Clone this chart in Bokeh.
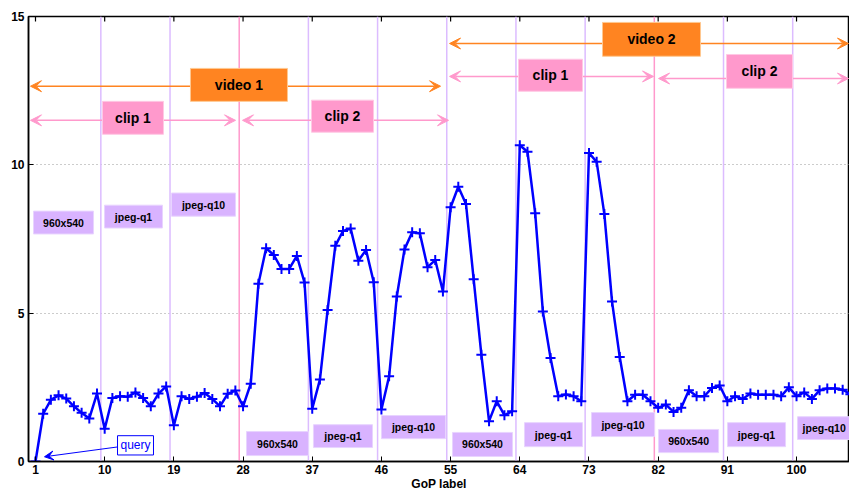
from bokeh.plotting import figure
from bokeh.models import Arrow, VeeHead, Span, FixedTicker, Range1d, ColumnDataSource
from bokeh.core.properties import value
from bokeh.embed import file_html
from bokeh.resources import INLINE

# ---------------- data ----------------
gop_label = list(range(1, 108))
distance = [
    0.00, 1.61, 2.08, 2.23, 2.12, 1.86, 1.64, 1.45, 2.29, 1.10,
    2.14, 2.20, 2.18, 2.33, 2.14, 1.86, 2.29, 2.53, 1.22, 2.20,
    2.11, 2.18, 2.31, 2.11, 1.86, 2.28, 2.39, 1.86, 2.62, 5.99,
    7.19, 6.96, 6.49, 6.49, 6.93, 6.03, 1.78, 2.76, 5.11, 7.27,
    7.77, 7.85, 6.77, 7.13, 6.04, 1.75, 2.87, 5.56, 7.15, 7.73,
    7.69, 6.55, 6.79, 5.73, 8.57, 9.26, 8.68, 6.14, 3.60, 1.36,
    2.03, 1.56, 1.69, 10.66, 10.44, 8.37, 5.06, 3.49, 2.20, 2.26,
    2.20, 2.03, 10.40, 10.10, 8.34, 5.39, 3.52, 2.03, 2.25, 2.25,
    2.03, 1.81, 1.92, 1.67, 1.81, 2.40, 2.20, 2.20, 2.48, 2.56,
    2.03, 2.20, 2.11, 2.29, 2.25, 2.25, 2.25, 2.20, 2.50, 2.20,
    2.33, 2.11, 2.40, 2.46, 2.46, 2.42, 2.27,
]
x_ticks = [1, 10, 19, 28, 37, 46, 55, 64, 73, 82, 91, 100]
y_ticks = [0, 5, 10, 15]
clip_bounds = [9.5, 18.5, 36.5, 45.5, 54.5, 63.5, 72.5, 90.5, 99.5]
video_bounds = [27.5, 81.5]
variant_labels = ["960x540", "jpeg-q1", "jpeg-q10"] * 4
video_names = ["video 1", "video 2"]
clip_names = ["clip 1", "clip 2", "clip 1", "clip 2"]
query_label = "query"
x_title = "GoP label"

# ---------------- styles ----------------
FONT = "Liberation Sans"
ORANGE = "#ff8421"
PINK = "#ff99cc"
PURPLE = "#dcbcff"
BLUE = "#0000ff"

p = figure(width=849, height=493, output_backend="svg", toolbar_location=None,
           x_range=Range1d(0.09, 106.89), y_range=Range1d(0, 15),
           min_border_left=28, min_border_right=0, min_border_top=16, min_border_bottom=31,
           background_fill_color="white", border_fill_color="white")
p.outline_line_color = "black"
p.outline_line_width = 1.5

# axes
for ax in (p.xaxis[0], p.yaxis[0]):
    ax.major_label_text_font = FONT
    ax.major_label_text_font_style = "bold"
    ax.major_label_text_font_size = "12px"
    ax.major_label_text_color = "black"
    ax.major_tick_in = 5
    ax.major_tick_out = 0
    ax.minor_tick_in = 0
    ax.minor_tick_out = 0
    ax.axis_line_color = "black"
    ax.axis_line_width = 1.5
    ax.major_tick_line_color = "black"
p.xaxis.ticker = FixedTicker(ticks=x_ticks)
p.yaxis.ticker = FixedTicker(ticks=y_ticks)
p.xaxis.major_label_standoff = 3
p.yaxis.major_label_standoff = 4
p.xaxis.axis_label = x_title
p.xaxis.axis_label_text_font = FONT
p.xaxis.axis_label_text_font_style = "bold"
p.xaxis.axis_label_text_font_size = "12px"
p.xaxis.axis_label_text_color = "black"
p.xaxis.axis_label_standoff = 0

# inward ticks along the top edge of the box
p.segment(x0=x_ticks, y0=[15] * len(x_ticks), x1=x_ticks, y1=[14.83] * len(x_ticks),
          line_color="black", line_width=1.2)

p.xgrid.visible = False
p.ygrid.ticker = FixedTicker(ticks=y_ticks)
p.ygrid.grid_line_color = "#999999"
p.ygrid.grid_line_dash = "1 3"
p.ygrid.grid_line_width = 1

# separators
for b in clip_bounds:
    p.add_layout(Span(location=b, dimension="height", line_color=PURPLE, line_width=1.5, level="underlay"))
for b in video_bounds:
    p.add_layout(Span(location=b, dimension="height", line_color=PINK, line_width=1.5, level="underlay"))

# arrows (video / clip extents)
def darrow(x0, x1, y, color):
    p.add_layout(Arrow(start=VeeHead(size=11, fill_color=color, line_color=color),
                       end=VeeHead(size=11, fill_color=color, line_color=color),
                       x_start=x0, y_start=y, x_end=x1, y_end=y,
                       line_color=color, line_width=1.5, level="underlay"))

darrow(0.35, 53.69, 12.65, ORANGE)
darrow(54.86, 106.76, 14.09, ORANGE)
darrow(0.35, 27.02, 11.50, PINK)
darrow(27.93, 54.73, 11.50, PINK)
darrow(54.86, 81.40, 12.98, PINK)
darrow(82.05, 106.76, 12.91, PINK)

def centers(src):
    src.data["xc"] = [(a + b) / 2 for a, b in zip(src.data["left"], src.data["right"])]
    src.data["yc"] = [(a + b) / 2 for a, b in zip(src.data["bottom"], src.data["top"])]

# video boxes
vbox = ColumnDataSource(dict(
    left=[21.16, 74.76], right=[33.78, 87.51], bottom=[12.14, 13.66], top=[13.25, 14.80],
    text=video_names))
centers(vbox)
p.quad(left="left", right="right", bottom="bottom", top="top", source=vbox,
       fill_color=ORANGE, line_color="#ffc890", line_width=1)
p.text(x="xc", y="yc", text="text", source=vbox, text_font=value(FONT), text_font_style="bold",
       text_font_size="14px", text_align="center", text_baseline="middle", text_color="black")

# clip boxes
cbox = ColumnDataSource(dict(
    left=[9.72, 36.90, 63.83, 90.89], right=[17.65, 44.97, 72.16, 99.48],
    bottom=[11.03, 11.10, 12.48, 12.58], top=[12.14, 12.18, 13.56, 13.72],
    text=clip_names))
centers(cbox)
p.quad(left="left", right="right", bottom="bottom", top="top", source=cbox,
       fill_color=PINK, line_color="#ffc8e4", line_width=1)
p.text(x="xc", y="yc", text="text", source=cbox, text_font=value(FONT), text_font_style="bold",
       text_font_size="14px", text_align="center", text_baseline="middle", text_color="black")

# variant boxes
sbox = ColumnDataSource(dict(
    left=[0.74, 9.98, 18.69, 28.45, 37.16, 46.01, 55.25, 64.61, 73.33, 82.05, 91.02, 100.13],
    right=[8.55, 17.52, 27.02, 36.51, 44.84, 54.34, 63.05, 72.16, 81.53, 89.86, 98.57, 108.46],
    bottom=[7.67, 7.87, 8.27, 0.20, 0.47, 0.77, 0.17, 0.50, 0.84, 0.30, 0.50, 0.74],
    top=[8.44, 8.64, 9.05, 1.01, 1.24, 1.55, 0.98, 1.31, 1.65, 1.08, 1.31, 1.51],
    text=variant_labels))
centers(sbox)
# keep the last (edge) label fully inside the frame
sbox.data["xc"][-1] = min(sbox.data["xc"][-1], 103.6)
p.quad(left="left", right="right", bottom="bottom", top="top", source=sbox,
       fill_color="#d9b3ff", line_color="#e8d4ff", line_width=1)
p.text(x="xc", y="yc", text="text", source=sbox, text_font=value(FONT), text_font_style="bold",
       text_font_size="10.5px", text_align="center", text_baseline="middle", text_color="black")

# data line
p.line(gop_label, distance, line_color=BLUE, line_width=2.5)
p.scatter(gop_label, distance, marker="cross", size=10, line_color=BLUE, line_width=2)

# query annotation
p.add_layout(Arrow(end=VeeHead(size=9, fill_color=BLUE, line_color=BLUE), start=None,
                   x_start=11.67, y_start=0.49, x_end=2.17, y_end=0.16,
                   line_color=BLUE, line_width=1))
qbox = ColumnDataSource(dict(left=[11.67], right=[16.35], bottom=[0.22], top=[0.87], text=[query_label]))
centers(qbox)
p.quad(left="left", right="right", bottom="bottom", top="top", source=qbox,
       fill_color="white", line_color=BLUE, line_width=1)
p.text(x="xc", y="yc", text="text", source=qbox, text_font=value(FONT),
       text_font_size="12px", text_align="center", text_baseline="middle", text_color=BLUE)

open("out.html", "w").write(file_html(p, INLINE))
